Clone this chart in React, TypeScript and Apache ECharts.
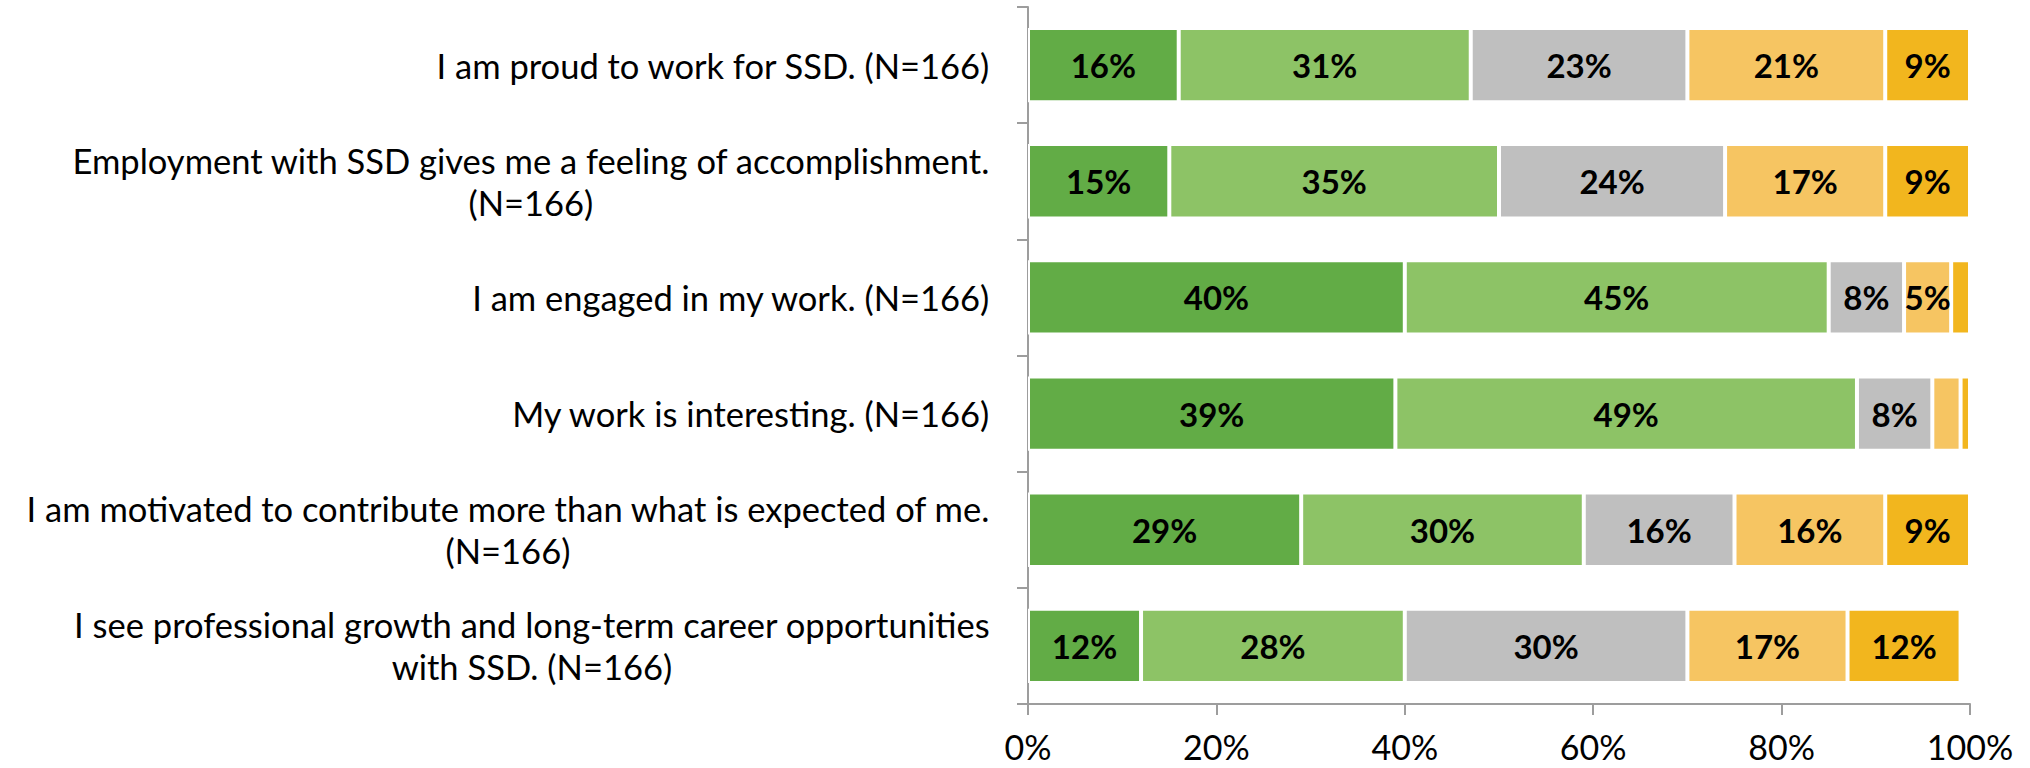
import React, { useEffect, useRef } from "react";
import * as echarts from "echarts";

const categories = [
  "I am proud to work for SSD. (N=166)",
  "Employment with SSD gives me a feeling of accomplishment.\n(N=166)",
  "I am engaged in my work. (N=166)",
  "My work is interesting. (N=166)",
  "I am motivated to contribute more than what is expected of me.\n(N=166)",
  "I see professional growth and long-term career opportunities\nwith SSD. (N=166)",
];

const seriesNames = ["Strongly Agree", "Agree", "Neutral", "Disagree", "Strongly Disagree"];
const stronglyAgree = [16, 15, 40, 39, 29, 12];
const agree = [31, 35, 45, 49, 30, 28];
const neutral = [23, 24, 8, 8, 16, 30];
const disagree = [21, 17, 5, 3, 16, 17];
const stronglyDisagree = [9, 9, 2, 1, 9, 12];
const colors = ["#62AC46", "#8DC366", "#BFBFBF", "#F6C562", "#F2B61E"];
const xTicks = [0, 20, 40, 60, 80, 100];

const FONT = "Lato";

export default function App() {
  const ref = useRef<HTMLDivElement>(null);
  useEffect(() => {
    if (!ref.current) return;
    const chart = echarts.init(ref.current, null, { renderer: "svg" });
    const values = [stronglyAgree, agree, neutral, disagree, stronglyDisagree];
    chart.setOption({
      animation: false,
      backgroundColor: "#ffffff",
      grid: {
        left: 1028,
        right: 60,
        top: 7,
        bottom: 64,
        containLabel: false,
        outerBoundsMode: "none",
      },
      xAxis: {
        type: "value",
        min: xTicks[0],
        max: xTicks[xTicks.length - 1],
        interval: xTicks[1] - xTicks[0],
        splitLine: { show: false },
        axisLine: { show: true, lineStyle: { color: "#9d9d9d", width: 2 } },
        axisTick: { show: true, length: 11, lineStyle: { color: "#9d9d9d", width: 2 } },
        axisLabel: {
          formatter: "{value}%",
          fontSize: 34,
          lineHeight: 30,
          fontFamily: FONT,
          color: "#000",
          margin: 27,
        },
      },
      yAxis: {
        type: "category",
        inverse: true,
        data: categories,
        axisLine: { show: true, lineStyle: { color: "#9d9d9d", width: 2 } },
        axisTick: { show: true, length: 11, lineStyle: { color: "#9d9d9d", width: 2 } },
        axisLabel: {
          margin: 38,
          align: "right",
          formatter: (v: string) => v.split("\n").map((l) => `{c|${l}}`).join("\n"),
          rich: {
            c: {
              align: "center",
              fontSize: 34.5,
              fontFamily: FONT,
              color: "#000",
              lineHeight: 42,
            },
          },
        },
      },
      series: values.map((vals, i) => ({
        name: seriesNames[i],
        type: "bar",
        stack: "total",
        data: vals,
        barCategoryGap: "36%",
        itemStyle: { color: colors[i], borderColor: "#ffffff", borderWidth: 2 },
        label: {
          show: true,
          position: "inside",
          fontSize: 33,
          fontWeight: "bold",
          fontFamily: FONT,
          color: "#000",
          formatter: (p: any) => (p.value >= 4 ? `${Math.round(p.value)}%` : ""),
        },
      })),
    });
    return () => chart.dispose();
  }, []);
  return (
    <div
      ref={ref}
      style={{ position: "absolute", left: 0, top: 0, width: 2030, height: 768 }}
    />
  );
}
